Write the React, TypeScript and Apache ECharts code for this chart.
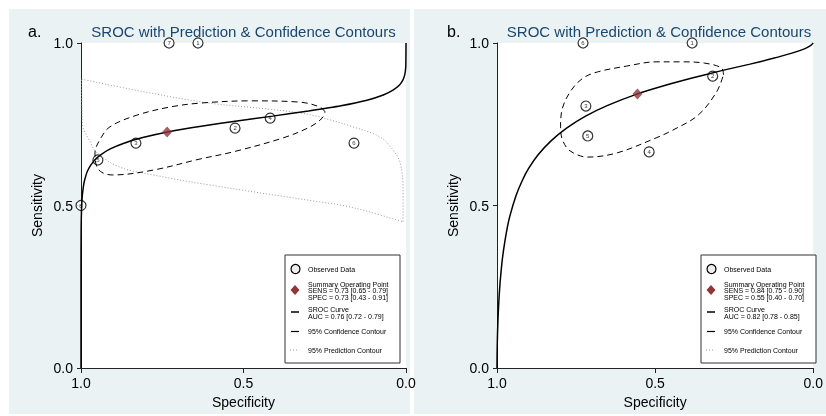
import React, { useEffect, useRef } from "react";
import * as echarts from "echarts";

const FONT = '"Liberation Sans", Arial, Helvetica, sans-serif';

// ---------- Panel a ----------
const studyIdsA = ["1", "2", "3", "4", "5", "6", "7", "8"];
const specA = [0.64, 0.526, 0.831, 0.418, 0.948, 0.16, 0.729, 1.0];
const sensA = [1.0, 0.738, 0.692, 0.769, 0.64, 0.692, 1.0, 0.5];
const summaryA = [0.735, 0.726]; // [spec, sens]

const srocSpecA = [1.0, 0.99999, 0.9999, 0.9995, 0.999, 0.998, 0.996, 0.993, 0.99, 0.985, 0.98, 0.97, 0.955, 0.935, 0.91, 0.87, 0.81, 0.73, 0.63, 0.52, 0.41, 0.3, 0.2, 0.12, 0.07, 0.04, 0.02, 0.01, 0.005, 0.002, 0.0005, 0.0];
const srocSensA = [0.0, 0.265, 0.358, 0.431, 0.464, 0.497, 0.53, 0.556, 0.573, 0.592, 0.606, 0.624, 0.643, 0.659, 0.674, 0.691, 0.709, 0.727, 0.744, 0.76, 0.775, 0.791, 0.807, 0.824, 0.84, 0.855, 0.871, 0.885, 0.898, 0.913, 0.932, 1.0];

const confSpecA = [0.249, 0.265, 0.326, 0.48, 0.634, 0.726, 0.828, 0.911, 0.942, 0.957, 0.951, 0.932, 0.902, 0.778, 0.634, 0.532, 0.378, 0.295, 0.258, 0.249];
const confSensA = [0.788, 0.803, 0.818, 0.822, 0.815, 0.803, 0.778, 0.742, 0.702, 0.662, 0.618, 0.6, 0.594, 0.609, 0.643, 0.665, 0.708, 0.742, 0.769, 0.788];

const predSpecA = [0.998, 0.818, 0.603, 0.428, 0.326, 0.265, 0.163, 0.08, 0.04, 0.018, 0.009, 0.009, 0.111, 0.203, 0.265, 0.603, 0.778, 0.88, 0.951, 0.975, 0.994, 0.997, 0.998];
const predSensA = [0.889, 0.852, 0.815, 0.797, 0.785, 0.772, 0.742, 0.711, 0.671, 0.631, 0.548, 0.449, 0.48, 0.502, 0.511, 0.563, 0.594, 0.618, 0.662, 0.702, 0.742, 0.794, 0.889];

// ---------- Panel b ----------
const studyIdsB = ["1", "2", "3", "4", "5", "6"];
const specB = [0.383, 0.318, 0.719, 0.519, 0.713, 0.728];
const sensB = [1.0, 0.898, 0.806, 0.665, 0.714, 1.0];
const summaryB = [0.556, 0.843];

const srocSpecB = [1.0, 0.9999, 0.9995, 0.999, 0.998, 0.996, 0.993, 0.99, 0.985, 0.98, 0.97, 0.96, 0.94, 0.92, 0.9, 0.87, 0.83, 0.78, 0.72, 0.65, 0.56, 0.47, 0.38, 0.29, 0.2, 0.13, 0.07, 0.03, 0.01, 0.0];
const srocSensB = [0.0, 0.021, 0.054, 0.08, 0.118, 0.17, 0.225, 0.266, 0.318, 0.358, 0.419, 0.465, 0.53, 0.577, 0.614, 0.656, 0.698, 0.738, 0.775, 0.808, 0.842, 0.869, 0.893, 0.915, 0.935, 0.952, 0.968, 0.981, 0.991, 1.0];

const confSpecB = [0.284, 0.29, 0.343, 0.414, 0.497, 0.59, 0.682, 0.728, 0.765, 0.793, 0.799, 0.793, 0.769, 0.713, 0.62, 0.497, 0.444, 0.364, 0.306, 0.284];
const confSensB = [0.902, 0.923, 0.938, 0.942, 0.942, 0.929, 0.911, 0.892, 0.855, 0.8, 0.742, 0.702, 0.668, 0.649, 0.662, 0.708, 0.732, 0.778, 0.849, 0.902];

// ---------- Text ----------
const titleText = "SROC with Prediction & Confidence Contours";
const panelLabels = ["a.", "b."];
const legendA = ["SENS = 0.73 [0.65 - 0.79]", "SPEC = 0.73 [0.43 - 0.91]", "AUC = 0.76 [0.72 - 0.79]"];
const legendB = ["SENS = 0.84 [0.75 - 0.90]", "SPEC = 0.55 [0.40 - 0.70]", "AUC = 0.82 [0.78 - 0.85]"];

const zip = (xs: number[], ys: number[]) => xs.map((x, i) => [x, ys[i]]);

function legendGroup(left: number, top: number, lines: string[]) {
  const t = (x: number, y: number, text: string) => ({
    type: "text",
    x,
    y,
    style: { text, fontSize: 7, fontFamily: FONT, fill: "#000", verticalAlign: "middle", align: "left" },
  });
  return {
    type: "group",
    x: left,
    y: top,
    z: 100,
    children: [
      { type: "rect", shape: { x: 0, y: 0, width: 115, height: 108 }, style: { fill: "#fff", stroke: "#333", lineWidth: 1 } },
      { type: "circle", shape: { cx: 10.5, cy: 14, r: 4.5 }, style: { fill: "#eeeeee", stroke: "#000", lineWidth: 1.2 } },
      t(23, 14, "Observed Data"),
      { type: "polygon", shape: { points: [[10, 30], [14.5, 35], [10, 40], [5.5, 35]] }, style: { fill: "#90353b" } },
      t(23, 29, "Summary Operating Point"),
      t(23, 35.5, lines[0]),
      t(23, 42, lines[1]),
      { type: "line", shape: { x1: 6, y1: 57, x2: 14, y2: 57 }, style: { stroke: "#000", lineWidth: 1.5 } },
      t(23, 54, "SROC Curve"),
      t(23, 61, lines[2]),
      { type: "line", shape: { x1: 6, y1: 76.5, x2: 14, y2: 76.5 }, style: { stroke: "#000", lineWidth: 1.2 } },
      t(23, 76.5, "95% Confidence Contour"),
      { type: "line", shape: { x1: 5, y1: 95, x2: 14, y2: 95 }, style: { stroke: "#999", lineWidth: 1, lineDash: [1, 2] } },
      t(23, 95, "95% Prediction Contour"),
    ],
  };
}

function xAxisFor(gridIndex: number) {
  return {
    gridIndex,
    type: "value",
    min: 0,
    max: 1,
    interval: 0.5,
    inverse: true,
    name: "Specificity",
    nameLocation: "middle",
    nameGap: 22,
    nameTextStyle: { fontSize: 14, fontFamily: FONT, color: "#000" },
    axisLine: { show: true, onZero: false, lineStyle: { color: "#222", width: 1 } },
    axisTick: { show: true, length: 5, lineStyle: { color: "#222" } },
    axisLabel: { fontSize: 14, fontFamily: FONT, color: "#000", margin: 8, formatter: (v: number) => v.toFixed(1) },
    splitLine: { show: false },
  };
}

function yAxisFor(gridIndex: number) {
  return {
    gridIndex,
    type: "value",
    min: 0,
    max: 1,
    interval: 0.5,
    name: "Sensitivity",
    nameLocation: "middle",
    nameGap: 37,
    nameTextStyle: { fontSize: 14, fontFamily: FONT, color: "#000" },
    axisLine: { show: true, onZero: false, lineStyle: { color: "#222", width: 1 } },
    axisTick: { show: true, length: 4, lineStyle: { color: "#222" } },
    axisLabel: { fontSize: 14, fontFamily: FONT, color: "#000", margin: 8, formatter: (v: number) => v.toFixed(1) },
    splitLine: { show: false },
  };
}

function panelSeries(
  gi: number,
  ids: string[],
  spec: number[],
  sens: number[],
  summary: number[],
  srocX: number[],
  srocY: number[],
  confX: number[],
  confY: number[],
  predX: number[] | null,
  predY: number[] | null
) {
  const s: any[] = [
    {
      type: "scatter",
      xAxisIndex: gi,
      yAxisIndex: gi,
      symbol: "circle",
      symbolSize: 10,
      z: 2,
      itemStyle: { color: "#fff", borderColor: "#000", borderWidth: 1.2 },
      label: {
        show: true,
        position: "inside",
        fontSize: 6,
        fontFamily: FONT,
        color: "#000",
        formatter: (p: any) => p.data[2],
      },
      data: spec.map((x, i) => [x, sens[i], ids[i]]),
    },
  ];
  if (predX && predY) {
    s.push({
      type: "line",
      xAxisIndex: gi,
      yAxisIndex: gi,
      symbol: "none",
      smooth: 0.35,
      z: 3,
      lineStyle: { color: "#999", width: 1, type: [1, 2] },
      data: zip(predX, predY),
    });
  }
  s.push(
    {
      type: "line",
      xAxisIndex: gi,
      yAxisIndex: gi,
      symbol: "none",
      smooth: 0.35,
      z: 3,
      lineStyle: { color: "#000", width: 1, type: [6, 4] },
      data: zip(confX, confY),
    },
    {
      type: "line",
      xAxisIndex: gi,
      yAxisIndex: gi,
      symbol: "none",
      smooth: 0.2,
      z: 4,
      lineStyle: { color: "#000", width: 1.5 },
      data: zip(srocX, srocY),
    },
    {
      type: "scatter",
      xAxisIndex: gi,
      yAxisIndex: gi,
      symbol: "diamond",
      symbolSize: [10, 11],
      z: 5,
      itemStyle: { color: "#90353b" },
      data: [[summary[0], summary[1]]],
    }
  );
  return s;
}

export default function App() {
  const ref = useRef<HTMLDivElement>(null);
  useEffect(() => {
    if (!ref.current) return;
    const chart = echarts.init(ref.current, undefined, { renderer: "svg" });
    const titleStyle = { fontSize: 15, fontFamily: FONT, fill: "#1a476f", align: "center", verticalAlign: "middle" };
    chart.setOption({
      animation: false,
      grid: [
        { left: 81, top: 43, width: 325, height: 325, show: true, backgroundColor: "#fff", borderWidth: 0 },
        { left: 497, top: 43, width: 324, height: 325, show: true, backgroundColor: "#fff", borderWidth: 0 },
      ],
      xAxis: [xAxisFor(0), xAxisFor(1)],
      yAxis: [yAxisFor(0), yAxisFor(1)],
      graphic: [
        { type: "rect", z: -10, shape: { x: 9, y: 9, width: 401, height: 405 }, style: { fill: "#eaf2f3" } },
        { type: "rect", z: -10, shape: { x: 414, y: 9, width: 420, height: 405 }, style: { fill: "#eaf2f3" } },
        { type: "text", x: 243.5, y: 31, style: { ...titleStyle, text: titleText } },
        { type: "text", x: 659, y: 31, style: { ...titleStyle, text: titleText } },
        { type: "text", x: 28, y: 31, style: { text: panelLabels[0], fontSize: 16, fontFamily: FONT, fill: "#000", verticalAlign: "middle" } },
        { type: "text", x: 447, y: 31, style: { text: panelLabels[1], fontSize: 16, fontFamily: FONT, fill: "#000", verticalAlign: "middle" } },
        legendGroup(285, 255, legendA),
        legendGroup(701, 255, legendB),
      ],
      series: [
        ...panelSeries(0, studyIdsA, specA, sensA, summaryA, srocSpecA, srocSensA, confSpecA, confSensA, predSpecA, predSensA),
        ...panelSeries(1, studyIdsB, specB, sensB, summaryB, srocSpecB, srocSensB, confSpecB, confSensB, null, null),
      ],
    });
    return () => chart.dispose();
  }, []);
  return <div ref={ref} style={{ position: "fixed", left: 0, top: 0, width: 826, height: 416 }} />;
}
